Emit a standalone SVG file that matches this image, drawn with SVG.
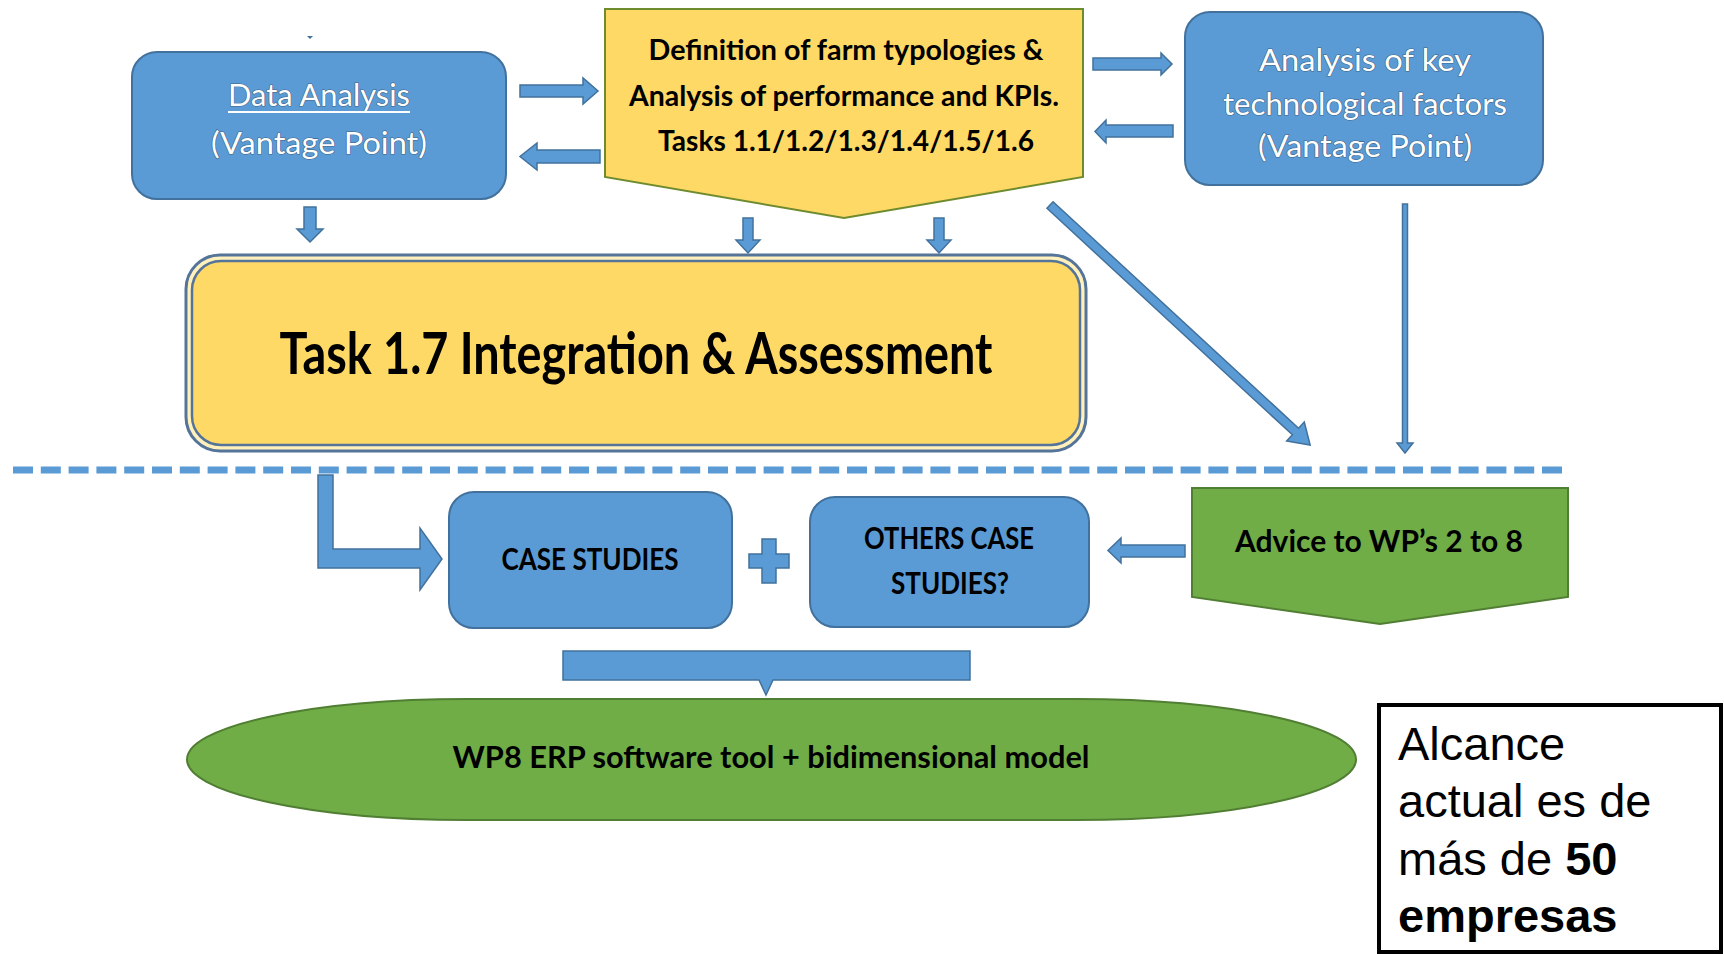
<svg xmlns="http://www.w3.org/2000/svg" width="1724" height="954" viewBox="0 0 1724 954">
<style>
.blue{fill:#5B9BD5;stroke:#41719C;stroke-width:2}
.arr{fill:#5B9BD5;stroke:#41719C;stroke-width:1.5;stroke-linejoin:miter}
.wt{font-family:Lato,"Open Sans","Liberation Sans",sans-serif;font-size:30px;fill:#FFFFFF;stroke:#3E6589;stroke-width:1.2;paint-order:stroke;text-anchor:middle}
.bt{font-family:Lato,"Open Sans","Liberation Sans",sans-serif;font-weight:bold;font-size:29px;fill:#000000;text-anchor:middle}
.note{font-family:"Liberation Sans",Arial,sans-serif;font-size:47px;fill:#000000}
</style>
<rect x="0" y="0" width="1724" height="954" fill="#FFFFFF"/>

<g id="connectors">
  <path d="M307,36 H313 L310,39 Z" fill="#41719C"/>
  <polygon class="arr" points="520,85 583,85 583,78 598,91 583,104 583,97 520,97"/>
  <polygon class="arr" points="600,150 537,150 537,143 520,156.5 537,170 537,163 600,163"/>
  <polygon class="arr" points="304,207 316,207 316,229 323,229 310,242 297,229 304,229"/>
  <polygon class="arr" points="743,218 753,218 753,240 760,240 748,253 736,240 743,240"/>
  <polygon class="arr" points="934,218 944,218 944,240 951,240 939,253 927,240 934,240"/>
  <polygon class="arr" points="1093,58 1161,58 1161,53 1172,64 1161,75 1161,70 1093,70"/>
  <polygon class="arr" points="1173,125 1106,125 1106,120 1095,131.5 1106,143 1106,137 1173,137"/>
  <polygon class="arr" points="1402.5,204 1407.5,204 1407.5,443 1413,443 1405,453 1397,443 1402.5,443"/>
  <g transform="translate(1050,205) rotate(42.7)">
    <polygon class="arr" points="0,-4.5 334,-4.5 334,-13 354,0 334,13 334,4.5 0,4.5"/>
  </g>
  <line x1="13" y1="470" x2="1568" y2="470" stroke="#5B9BD5" stroke-width="7" stroke-dasharray="20 7.8"/>
  <polygon class="arr" points="318,475 333,475 333,549 420,549 420,528 442,559 420,590 420,568 318,568"/>
  <polygon class="arr" points="1185,545 1121,545 1121,538 1108,550.5 1121,563 1121,557 1185,557"/>
  <path class="arr" d="M563,651 H970 V680 H773 L766,695 L759,680 H563 Z"/>
</g>

<g id="data-analysis">
  <rect class="blue" x="132" y="52" width="374" height="147" rx="25"/>
  <text class="wt" x="319" y="106" textLength="182" lengthAdjust="spacingAndGlyphs">Data Analysis</text>
  <line x1="228" y1="112" x2="410" y2="112" stroke="#FFFFFF" stroke-width="2"/>
  <text class="wt" x="319" y="154" textLength="216" lengthAdjust="spacingAndGlyphs">(Vantage Point)</text>
</g>

<g id="farm-typologies">
  <polygon points="605,9 1083,9 1083,177 844,218 605,177" fill="#FFD966" stroke="#6E8B2E" stroke-width="2"/>
  <text class="bt" x="846" y="60" textLength="395" lengthAdjust="spacingAndGlyphs">Definition of farm typologies &amp;</text>
  <text class="bt" x="844" y="106" textLength="430" lengthAdjust="spacingAndGlyphs">Analysis of performance and KPIs.</text>
  <text class="bt" x="846" y="151" textLength="376" lengthAdjust="spacingAndGlyphs">Tasks 1.1/1.2/1.3/1.4/1.5/1.6</text>
</g>

<g id="key-factors">
  <rect class="blue" x="1185" y="12" width="358" height="173" rx="25"/>
  <text class="wt" x="1365" y="71" textLength="212" lengthAdjust="spacingAndGlyphs">Analysis of key</text>
  <text class="wt" x="1365" y="115" textLength="284" lengthAdjust="spacingAndGlyphs">technological factors</text>
  <text class="wt" x="1365" y="157" textLength="214" lengthAdjust="spacingAndGlyphs">(Vantage Point)</text>
</g>

<g id="task-1-7">
  <rect x="186" y="255" width="900" height="196" rx="34" fill="#FFF0BC" stroke="#55749A" stroke-width="3"/>
  <rect x="192" y="261" width="888" height="184" rx="29" fill="#FFD966" stroke="#55749A" stroke-width="2.5"/>
  <text class="bt" x="636" y="374" style="font-size:58px" textLength="713" lengthAdjust="spacingAndGlyphs">Task 1.7 Integration &amp; Assessment</text>
</g>

<g id="case-studies">
  <rect class="blue" x="449" y="492" width="283" height="136" rx="25"/>
  <text class="bt" x="590" y="570" style="font-size:30px" textLength="177" lengthAdjust="spacingAndGlyphs">CASE STUDIES</text>
</g>

<g id="plus">
  <path class="arr" d="M762,539 H776 V554 H789 V568 H776 V583 H762 V568 H749 V554 H762 Z"/>
</g>

<g id="others-case-studies">
  <rect class="blue" x="810" y="497" width="279" height="130" rx="25"/>
  <text class="bt" x="949" y="549" style="font-size:30px" textLength="170" lengthAdjust="spacingAndGlyphs">OTHERS CASE</text>
  <text class="bt" x="950" y="594" style="font-size:30px" textLength="118" lengthAdjust="spacingAndGlyphs">STUDIES?</text>
</g>

<g id="advice">
  <polygon points="1192,488 1568,488 1568,597 1380,624 1192,597" fill="#70AD47" stroke="#507E32" stroke-width="2"/>
  <text class="bt" x="1379" y="552" style="font-size:30px" textLength="288" lengthAdjust="spacingAndGlyphs">Advice to WP’s 2 to 8</text>
</g>

<g id="wp8">
  <rect x="187" y="699" width="1169" height="121" rx="280" ry="60.5" fill="#70AD47" stroke="#507E32" stroke-width="2"/>
  <text class="bt" x="771" y="768" style="font-size:30px" textLength="637" lengthAdjust="spacingAndGlyphs">WP8 ERP software tool + bidimensional model</text>
</g>

<g id="note">
  <rect x="1379" y="705" width="342" height="247" fill="#FFFFFF" stroke="#000000" stroke-width="4"/>
  <text class="note" x="1398" y="760">Alcance</text>
  <text class="note" x="1398" y="817">actual es de</text>
  <text class="note" x="1398" y="875">más de <tspan font-weight="bold">50</tspan></text>
  <text class="note" x="1398" y="932" font-weight="bold">empresas</text>
</g>
</svg>
